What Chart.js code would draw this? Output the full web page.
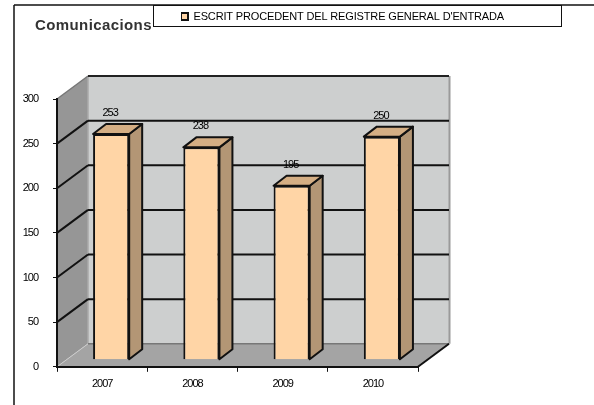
<!DOCTYPE html>
<html><head><meta charset="utf-8">
<style>html,body{margin:0;padding:0;background:#fff}canvas{display:block;filter:blur(.35px)}</style>
<script src="https://cdn.jsdelivr.net/npm/chart.js@4"></script></head>
<body><canvas id="c" width="594" height="405"></canvas>
<script>
const categories = ['2007','2008','2009','2010'];
const seriesName = "ESCRIT PROCEDENT DEL REGISTRE GENERAL D'ENTRADA";
const seriesValues = [253,238,195,250];
const titleText = 'Comunicacions';
const yTicks = [0,50,100,150,200,250,300];

const wallDepth = {x:31,y:-23};
const barShift = {x:9,y:-7};
const barDepth = {x:13,y:-10};
const C = {front:'#FFD5A6',top:'#D4AE84',side:'#B39675',wall:'#CDCFCF',floor:'#A4A4A4',sideWall:'#969696',line:'#111'};

function seg(ctx,x1,y1,x2,y2,w,col){ctx.beginPath();ctx.moveTo(x1,y1);ctx.lineTo(x2,y2);ctx.lineWidth=w;ctx.strokeStyle=col;ctx.stroke();}
function poly(ctx,pts,fill,stroke,w){ctx.beginPath();pts.forEach((p,i)=>i?ctx.lineTo(p[0],p[1]):ctx.moveTo(p[0],p[1]));ctx.closePath();ctx.fillStyle=fill;ctx.fill();if(stroke){ctx.lineWidth=w;ctx.lineJoin='round';ctx.strokeStyle=stroke;ctx.stroke();}}

const scene = {
  id:'scene',
  afterLayout(chart){
    const l=chart.legend,t=chart.titleBlock;
    const lw=l.right-l.left,lh=l.bottom-l.top;
    l.left=181;l.right=181+lw;l.top=11;l.bottom=11+lh;
    const tw=t.right-t.left,th=t.bottom-t.top;
    t.left=35;t.right=35+tw;t.top=17;t.bottom=17+th;
    if(!l._wrapped){const d=l.draw;l.draw=function(a){const c=chart.ctx;const o=c.letterSpacing;c.letterSpacing='-0.15px';d.call(this,a);c.letterSpacing=o;};l._wrapped=true;}
    if(!t._wrapped){const d=t.draw;t.draw=function(a){const c=chart.ctx;const o=c.letterSpacing;c.letterSpacing='0.4px';d.call(this,a);c.letterSpacing=o;};t._wrapped=true;}
  },
  beforeDraw(chart){
    const ctx=chart.ctx,y=chart.scales.y,x=chart.scales.x;
    ctx.letterSpacing='-1px';
    const L=x.left,R=x.right,B=y.getPixelForValue(0),T=y.getPixelForValue(300);
    const dx=wallDepth.x,dy=wallDepth.y;
    poly(ctx,[[L+dx,T+dy],[R+dx,T+dy],[R+dx,B+dy],[L+dx,B+dy]],C.wall);
    poly(ctx,[[L,T],[L+dx,T+dy],[L+dx,B+dy],[L,B]],C.sideWall);
    poly(ctx,[[L,B],[L+dx,B+dy],[R+dx,B+dy],[R,B]],C.floor);
    seg(ctx,R+dx+.5,T+dy,R+dx+.5,B+dy,2,'#9a9a9a');
    seg(ctx,L+dx,T+dy,L+dx,B+dy,1.5,'#aaa');
    seg(ctx,L+dx,B+dy,R+dx,B+dy,1.5,'#777');
    seg(ctx,L,T,L+dx,T+dy,1.5,'#777');
    seg(ctx,L,B,L+dx,B+dy,1,'#ccc');
    seg(ctx,L+dx,T+dy,R+dx,T+dy,2,'#222');
    yTicks.slice(1,-1).forEach(v=>{
      const p=y.getPixelForValue(v);
      seg(ctx,L,p,L+dx,p+dy,2,C.line);
      seg(ctx,L+dx,p+dy,R+dx,p+dy,2,C.line);
    });
    seg(ctx,R,B,R+dx,B+dy,2,C.line);
    // outer frame and legend box
    seg(ctx,14,5,594,5,1.5,'#111');
    seg(ctx,14,5,14,405,1.5,'#111');
    ctx.fillStyle='#fff';ctx.fillRect(153,5,409,22);
    ctx.strokeStyle='#111';ctx.lineWidth=1;ctx.strokeRect(153.5,5.5,408,21);
  },
  beforeDatasetsDraw(chart){
    const ctx=chart.ctx;
    ctx.save();
    ctx.translate(barShift.x,barShift.y);
    chart.getDatasetMeta(0).data.forEach(b=>{
      const l=b.x-b.width/2,r=b.x+b.width/2,t=b.y,bt=b.base;
      const d=barDepth;
      poly(ctx,[[r,t],[r+d.x,t+d.y],[r+d.x,bt+d.y],[r,bt]],C.side,'#111',2);
      poly(ctx,[[l,t],[l+d.x,t+d.y],[r+d.x,t+d.y],[r,t]],C.top,'#111',2);
    });
  },
  afterDatasetsDraw(chart){
    const ctx=chart.ctx;
    ctx.restore();
    ctx.save();
    ctx.font='11px "Liberation Sans"';ctx.fillStyle='#000';ctx.textAlign='center';ctx.textBaseline='middle';
    ctx.letterSpacing='-1px';
    chart.getDatasetMeta(0).data.forEach((b,i)=>{
      ctx.fillText(String(seriesValues[i]),b.x+barShift.x-1,b.y+barShift.y-21);
    });
    ctx.restore();
  }
};

new Chart(document.getElementById('c'),{
  type:'bar',
  data:{labels:categories,datasets:[{
    label:seriesName,data:seriesValues,
    backgroundColor:C.front,borderColor:'#111',borderWidth:2,
    categoryPercentage:1,barPercentage:0.4,clip:false
  }]},
  plugins:[scene],
  options:{
    responsive:false,animation:false,devicePixelRatio:1,
    layout:{padding:{top:60,left:0,right:176,bottom:8}},
    plugins:{
      tooltip:{enabled:false},
      title:{display:true,text:titleText,align:'start',color:'#333',padding:0,
        font:{family:'"Liberation Sans"',size:15,weight:'bold'}},
      legend:{display:true,align:'start',onClick:null,
        labels:{boxWidth:7,boxHeight:7,padding:0,color:'#000',font:{family:'"Liberation Sans"',size:11}}}
    },
    scales:{
      x:{grid:{display:true,drawOnChartArea:false,color:'#111',tickLength:5,offset:true},
        border:{color:'#111',width:2},
        ticks:{color:'#000',padding:6,maxRotation:0,font:{family:'"Liberation Sans"',size:11}}},
      y:{min:0,max:300,afterBuildTicks(s){s.ticks=yTicks.map(v=>({value:v}));},
        afterFit(s){s.width=57;},
        grid:{display:true,drawOnChartArea:false,color:'#111',tickLength:4,lineWidth:1},
        border:{color:'#111',width:2},
        ticks:{color:'#000',padding:15,font:{family:'"Liberation Sans"',size:11}}}
    }
  }
});
</script></body></html>
